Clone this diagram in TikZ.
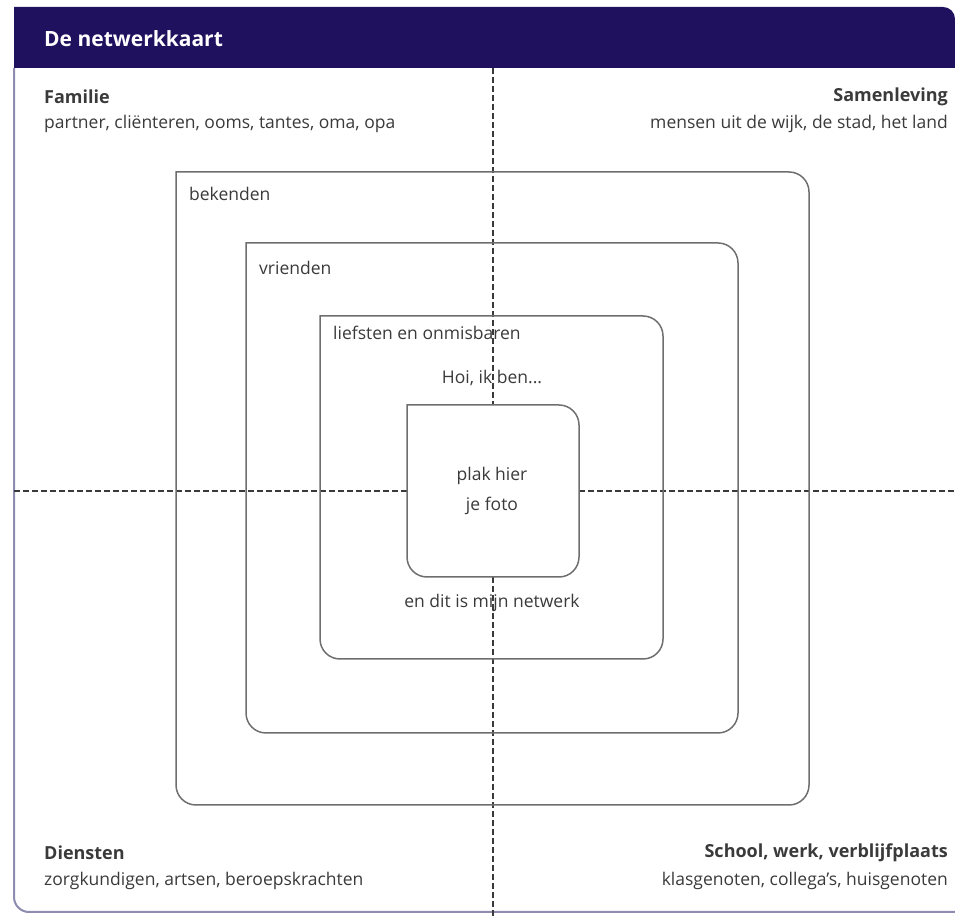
\documentclass[tikz,border=0pt]{standalone}
\usepackage{fontspec}
\setmainfont{Open Sans}
\definecolor{hdr}{HTML}{20115E}
\definecolor{frm}{HTML}{8E8CB0}
\definecolor{txt}{HTML}{3A3A3A}
\definecolor{boxc}{HTML}{6E6E6E}
\definecolor{dashc}{HTML}{3A3A3A}
\newcommand\netbox[1]{\draw[boxline] (#1.north west) -- ([xshift=-20pt]#1.north east) arc[start angle=90,end angle=0,radius=20pt] -- ([yshift=20pt]#1.south east) arc[start angle=0,end angle=-90,radius=20pt] -- ([xshift=20pt]#1.south west) arc[start angle=270,end angle=180,radius=20pt] -- cycle;}
\tikzset{
  boxarea/.style={rectangle,draw=none,inner sep=0pt,outer sep=0pt},
  boxline/.style={draw=boxc,line width=1.5pt},
  divline/.style={draw=dashc,line width=1.5pt,dash pattern=on 6pt off 3pt},
  cat/.style={font=\fontsize{18}{20}\selectfont\bfseries,text=txt,inner sep=0pt},
  sub/.style={font=\fontsize{17.5}{20}\selectfont,text=txt,inner sep=0pt},
  lbl/.style={font=\fontsize{17.5}{20}\selectfont,text=txt,inner sep=0pt},
}
\begin{document}
\begin{tikzpicture}[x=1pt,y=1pt]
\useasboundingbox (0,0) rectangle (955,917);
% frame
\draw[frm,line width=2pt] (14,849) -- (14,20) arc[start angle=180,end angle=270,radius=15pt] -- (955,5);
% header
\fill[hdr] (14,910) -- (943,910) arc[start angle=90,end angle=0,radius=12pt] -- (955,849) -- (14,849) -- cycle;
\node[anchor=west,font=\fontsize{21}{24}\selectfont\bfseries,text=white,inner sep=0pt] (title) at (44,878) {De netwerkkaart};
% boxes
\node[boxarea,minimum width=633pt,minimum height=633pt] (bek) at (492.5,428.5) {};
\node[boxarea,minimum width=492pt,minimum height=490pt] (vri) at (492,429) {};
\node[boxarea,minimum width=343pt,minimum height=343pt] (lief) at (491.5,429.5) {};
\node[boxarea,minimum width=172pt,minimum height=172pt] (foto) at (493,426) {};
% dividers
\coordinate (vtop) at (493,849);
\coordinate (vbot) at (493,0);
\coordinate (hl) at (14,426);
\coordinate (hr) at (955,426);
\draw[divline] (vtop) -- (foto.north);
\draw[divline] (foto.south) -- (vbot);
\draw[divline] (hl) -- (foto.west);
\draw[divline] (foto.east) -- (hr);
\netbox{bek}
\netbox{vri}
\netbox{lief}
\netbox{foto}
% category texts
\node[cat,anchor=west] (fam) at (44,820) {Familie};
\node[sub,anchor=west] (famt) at (44,793) {partner, cliënteren, ooms, tantes, oma, opa};
\node[cat,anchor=east] (sam) at (948,820) {Samenleving};
\node[sub,anchor=east] (samt) at (948,793) {mensen uit de wijk, de stad, het land};
\node[cat,anchor=west] (die) at (44,64) {Diensten};
\node[sub,anchor=west] (diet) at (44,36) {zorgkundigen, artsen, beroepskrachten};
\node[cat,anchor=east] (sch) at (948,64) {School, werk, verblijfplaats};
\node[sub,anchor=east] (scht) at (948,36) {klasgenoten, collega's, huisgenoten};
% box labels
\node[lbl,anchor=west] (lbek) at (189,723) {bekenden};
\node[lbl,anchor=west] (lvri) at (259,649) {vrienden};
\node[lbl,anchor=west] (llief) at (333,584) {liefsten en onmisbaren};
\node[lbl] (hoi) at (492,539) {Hoi, ik ben...};
\node[lbl] (plak) at (492,441) {plak hier};
\node[lbl] (jef) at (492,411) {je foto};
\node[lbl] (net) at (492,314) {en dit is mijn netwerk};
\end{tikzpicture}
\end{document}
